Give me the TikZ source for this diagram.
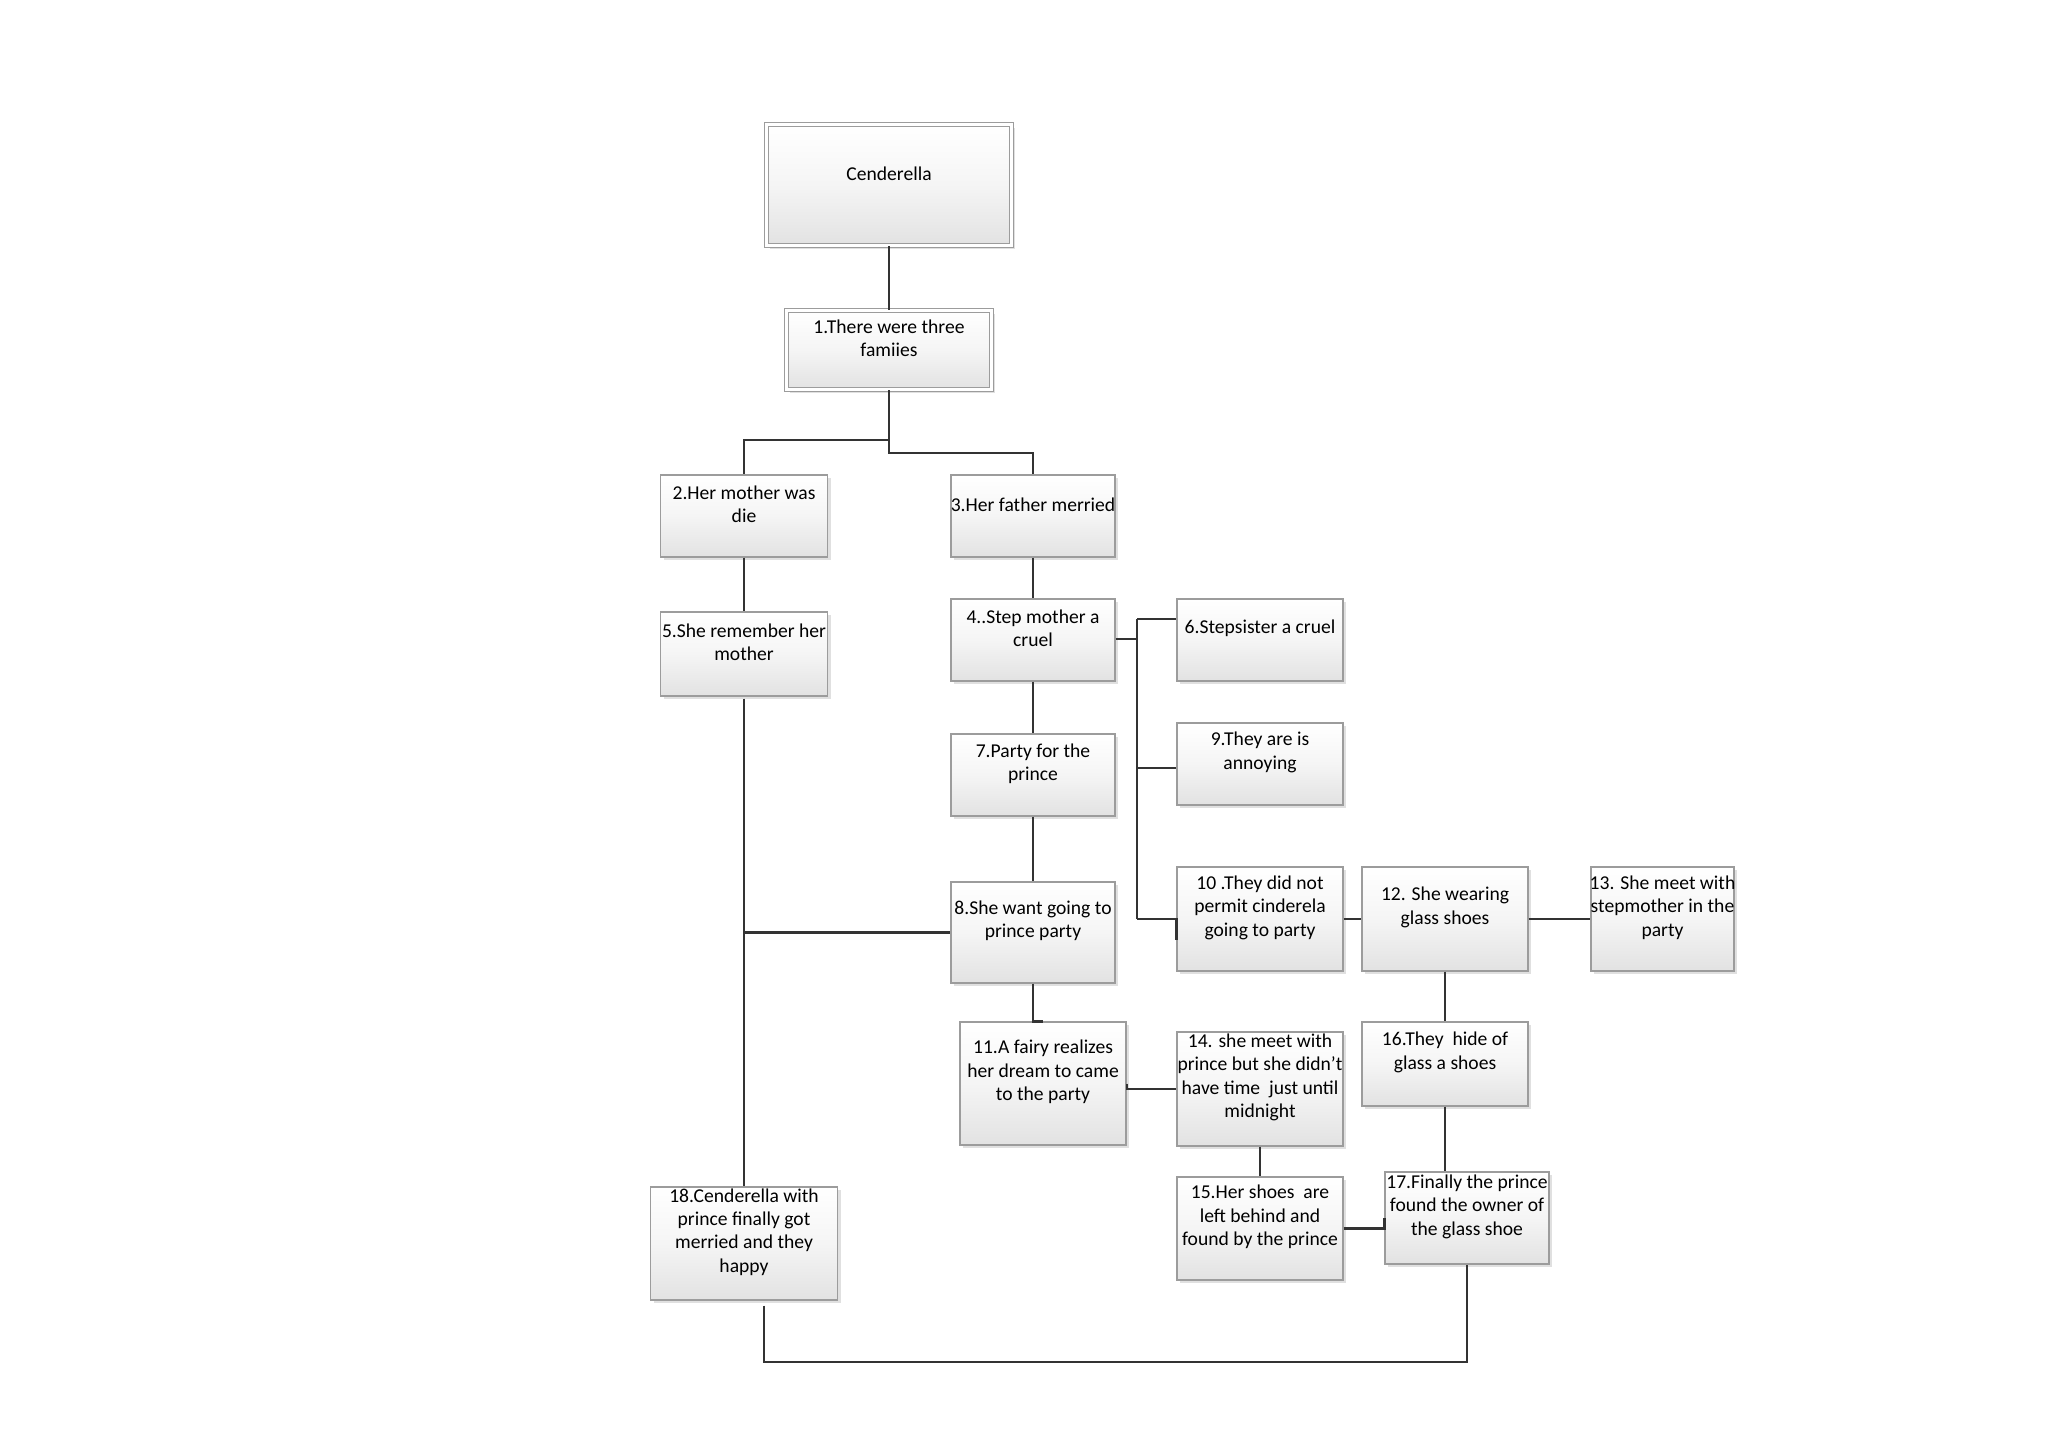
\documentclass[tikz,border=0pt]{standalone}
\usepackage{fontspec}
\setmainfont{Carlito}
\usetikzlibrary{shadows}
\definecolor{boxline}{HTML}{9C9C9C}
\definecolor{boxbot}{HTML}{E2E2E2}
\definecolor{connc}{HTML}{333333}
\begin{document}
\begin{tikzpicture}[x=0.5pt,y=-0.5pt,
  box/.style 2 args={draw=boxline, line width=0.6pt, top color=white, bottom color=boxbot, middle color=white!96!black, minimum width=#1*0.5pt, minimum height=#2*0.5pt, inner sep=0pt, drop shadow={shadow xshift=1.6pt, shadow yshift=-1.6pt, fill=black, opacity=0.12}},
  dbox/.style 2 args={box={#1}{#2}, double=white, double distance=1.25pt, line width=0.5pt},
  txt/.style={align=center, inner sep=0pt, font=\fontsize{9.8}{11.7}\selectfont, text=black},
  conn/.style={draw=connc, line width=1.1pt}
]
\useasboundingbox[fill=white] (0,0) rectangle (2048,1448);

% boxes
\node[dbox={245}{121}] (cen) at (889,185) {};
\node[dbox={205}{79}] (b1) at (889,350) {};
\node[box={167}{82}] (b2) at (744,516) {};
\node[box={164}{82}] (b3) at (1033,516) {};
\node[box={164}{82}] (b4) at (1033,640) {};
\node[box={167}{84}] (b5) at (744,654) {};
\node[box={166}{82}] (b6) at (1260,640) {};
\node[box={164}{82}] (b7) at (1033,775) {};
\node[box={164}{101}] (b8) at (1033,932.5) {};
\node[box={166}{82}] (b9) at (1260,764) {};
\node[box={166}{104}] (b10) at (1260,919) {};
\node[box={166}{123}] (b11) at (1043,1083.5) {};
\node[box={166}{104}] (b12) at (1445,919) {};
\node[box={143}{104}] (b13) at (1662.5,919) {};
\node[box={166}{114}] (b14) at (1260,1089) {};
\node[box={166}{103}] (b15) at (1260,1228.5) {};
\node[box={166}{84}] (b16) at (1445,1064) {};
\node[box={164}{92}] (b17) at (1467,1218) {};
\node[box={187}{113}] (b18) at (744,1243.5) {};

% texts
\node[txt] (t0) at ([yshift=5.75pt]cen.center) {Cenderella};
\node[txt] (t1) at ([yshift=5.75pt]b1.center) {1.There were three\\famiies};
\node[txt] (t2) at ([yshift=5.75pt]b2.center) {2.Her mother was\\die};
\node[txt] (t3) at ([yshift=5.75pt]b3.center) {3.Her father merried};
\node[txt] (t4) at ([yshift=5.75pt]b4.center) {4..Step mother a\\cruel};
\node[txt] (t5) at ([yshift=5.75pt]b5.center) {5.She remember her\\mother};
\node[txt] (t6) at ([yshift=5.75pt]b6.center) {6.Stepsister a cruel};
\node[txt] (t7) at ([yshift=5.75pt]b7.center) {7.Party for the\\prince};
\node[txt] (t8) at ([yshift=5.75pt]b8.center) {8.She want going to\\prince party};
\node[txt] (t9) at ([yshift=5.75pt]b9.center) {9.They are is\\annoying};
\node[txt] (t10) at ([yshift=5.75pt]b10.center) {10 .They did not\\permit cinderela\\going to party};
\node[txt] (t11) at ([yshift=5.75pt]b11.center) {11.A fairy realizes\\her dream to came\\to the party};
\node[txt] (t12) at ([yshift=5.75pt]b12.center) {12. She wearing\\glass shoes};
\node[txt] (t13) at ([yshift=5.75pt]b13.center) {13. She meet with\\stepmother in the\\party};
\node[txt] (t14) at ([yshift=5.75pt]b14.center) {14. she meet with\\prince but she didn’t\\have time\ \ just until\\midnight};
\node[txt] (t15) at ([yshift=5.75pt]b15.center) {15.Her shoes\ \ are\\left behind and\\found by the prince};
\node[txt] (t16) at ([yshift=5.75pt]b16.center) {16.They\ \ hide of\\glass a shoes};
\node[txt] (t17) at ([yshift=5.75pt]b17.center) {17.Finally the prince\\found the owner of\\the glass shoe};
\node[txt] (t18) at ([yshift=5.75pt]b18.center) {18.Cenderella with\\prince finally got\\merried and they\\happy};

% junction coordinates
\coordinate (j1) at (889,440);
\coordinate (j2) at (889,453);
\coordinate (bt) at (1137,619);
\coordinate (bj) at (1137,639);
\coordinate (bm) at (1137,768);
\coordinate (bb) at (1137,919);
\coordinate (bot) at (0,1362);
\coordinate (e18) at ([xshift=10pt,yshift=-2.5pt]b18.south);

% connectors
\draw[conn] (cen.south) -- (b1.north);
\draw[conn] (b1.south) -- (j1) -| (b2.north);
\draw[conn] (j1) -- (j2) -| (b3.north);
\draw[conn] (b2.south) -- (b5.north);
\draw[conn] (b3.south) -- (b4.north);
\draw[conn] (b4.south) -- (b7.north);
\draw[conn] (b7.south) -- (b8.north);
\draw[conn] ([yshift=-1pt]b5.south) -- (b18.north);
\draw[conn] (b5.south |- b8.west) -- (b8.west);
\draw[conn] (b4.east |- bj) -- (bj);
\draw[conn] (bt) -- (bb);
\draw[conn] (bt) -- (bt -| b6.west);
\draw[conn] (bm) -- (bm -| b9.west);
\draw[conn] (bb) -- (b10.west) -- ++(0,21);
\draw[conn] (b10.east) -- (b12.west);
\draw[conn] (b12.east) -- (b13.west);
\draw[conn] (b8.south) |- (b11.north);
\draw[conn] (b11.east) |- (b14.west);
\draw[conn] (b14.south) -- (b15.north);
\draw[conn] (b15.east) -| (b17.west);
\draw[conn] (b12.south) -- (b16.north);
\draw[conn] (b16.south) -- (b16.south |- b17.north);
\draw[conn] (e18) -- (e18 |- bot) -| (b17.south);
\end{tikzpicture}
\end{document}
